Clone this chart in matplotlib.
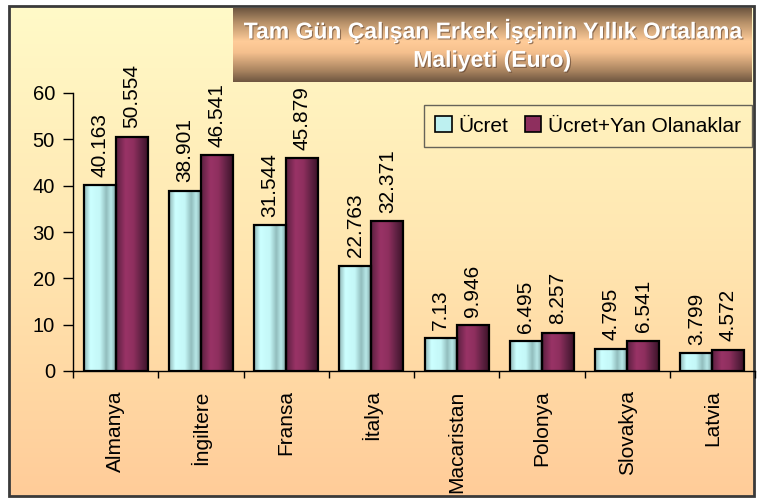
import numpy as np
import matplotlib
matplotlib.use("Agg")
import matplotlib.pyplot as plt
from matplotlib.colors import LinearSegmentedColormap
from matplotlib.patches import Rectangle, Patch
import matplotlib.patheffects as pe

plt.rcParams['font.family'] = ['Liberation Sans', 'DejaVu Sans']

categories = ["Almanya", "İngiltere", "Fransa", "İtalya", "Macaristan", "Polonya", "Slovakya", "Latvia"]
ucret = [40.163, 38.901, 31.544, 22.763, 7.13, 6.495, 4.795, 3.799]
ucret_yan = [50.554, 46.541, 45.879, 32.371, 9.946, 8.257, 6.541, 4.572]
series_names = ["Ücret", "Ücret+Yan Olanaklar"]
yticks = [0, 10, 20, 30, 40, 50, 60]
title = "Tam Gün Çalışan Erkek İşçinin Yıllık Ortalama\nMaliyeti (Euro)"

W, H = 758, 499
fig = plt.figure(figsize=(W / 100, H / 100), dpi=100)
fig.patch.set_facecolor("white")

# background layer in pixel coordinates
bg = fig.add_axes([0, 0, 1, 1], zorder=-1)
bg.set_xlim(0, W)
bg.set_ylim(H, 0)
bg.axis("off")
bg_cmap = LinearSegmentedColormap.from_list("bg", ["#FFFAC8", "#FFE6B0", "#FFCC99"])
grad = np.linspace(0, 1, 256).reshape(-1, 1)
bg.imshow(grad, cmap=bg_cmap, extent=[9, 754, 496, 6], aspect="auto", interpolation="bilinear")
bg.add_patch(Rectangle((9, 6), 745, 490, fill=False, edgecolor="#3A3A3A", linewidth=2))

# title box
t_cmap = LinearSegmentedColormap.from_list(
    "tt", [(0, "#6E5640"), (0.2, "#B8926A"), (0.45, "#FFCC99"), (0.6, "#F5C08E"), (0.85, "#A8835F"), (1, "#6E5640")])
bg.imshow(grad, cmap=t_cmap, extent=[233, 752, 82, 8], aspect="auto", interpolation="bilinear")
bg.text(492, 45, title, ha="center", va="center", color="white", fontsize=16.5, fontweight="bold",
        linespacing=1.3,
        path_effects=[pe.withSimplePatchShadow(offset=(0.8, -0.8), shadow_rgbFace="#5A4030", alpha=0.6)])
bg.set_xlim(0, W)
bg.set_ylim(H, 0)

# main axes
ax = fig.add_axes([73 / W, 1 - 371 / H, (755 - 73) / W, (371 - 93) / H])
ax.patch.set_alpha(0)
x = np.arange(len(categories))
bw = 0.375

cyan_cmap = LinearSegmentedColormap.from_list(
    "cy", [(0, "#8FB5B5"), (0.2, "#CCFFFF"), (0.5, "#C4F7F7"), (0.7, "#92BDBD"), (0.85, "#B8E8E8"), (1, "#7FA3A3")])
mar_cmap = LinearSegmentedColormap.from_list(
    "mr", [(0, "#5A1F3F"), (0.3, "#993366"), (0.55, "#8E2F5E"), (0.8, "#5E2142"), (1, "#3E1229")])
hgrad = np.linspace(0, 1, 256).reshape(1, -1)

def draw(vals, offset, cmap):
    bars = ax.bar(x + offset, vals, bw, facecolor="none", edgecolor="black", linewidth=1.6, zorder=3)
    for b in bars:
        im = ax.imshow(hgrad, cmap=cmap, aspect="auto", interpolation="bilinear",
                       extent=[b.get_x(), b.get_x() + b.get_width(), 0, b.get_height()], zorder=2)
        im.set_clip_path(b)
    return bars

b1 = draw(ucret, -bw / 2, cyan_cmap)
b2 = draw(ucret_yan, bw / 2, mar_cmap)

for bars, vals in ((b1, ucret), (b2, ucret_yan)):
    for b, v in zip(bars, vals):
        ax.annotate(f"{v:g}", (b.get_x() + b.get_width() / 2, v), xytext=(0, 6), textcoords="offset points",
                    rotation=90, ha="center", va="bottom", fontsize=15, zorder=4)

ax.set_xlim(-0.5, len(categories) - 0.5)
ax.set_ylim(0, 60)
ax.set_yticks(yticks)
ax.set_yticklabels([str(t) for t in yticks], fontsize=14.5)
ax.tick_params(axis="y", direction="out", length=7, width=1, pad=6, colors="black")
ax.set_xticks(x)
ax.set_xticklabels(categories, rotation=90, fontsize=15, va="top", ha="center")
ax.tick_params(axis="x", which="major", length=0, pad=14)
ax.set_xticks(np.arange(len(categories) + 1) - 0.5, minor=True)
ax.tick_params(axis="x", which="minor", direction="out", length=5, width=1)
for s in ("top", "right"):
    ax.spines[s].set_visible(False)
ax.spines["left"].set_linewidth(1)
ax.spines["bottom"].set_linewidth(1)

handles = [Patch(facecolor="#BDF0F0", edgecolor="black", linewidth=1.2),
           Patch(facecolor="#8E2F5E", edgecolor="black", linewidth=1.2)]
leg = fig.legend(handles, series_names, loc="upper right", bbox_to_anchor=(752 / W, 1 - 105 / H),
                 ncol=2, fontsize=15, frameon=True, fancybox=False, handlelength=0.8, handleheight=0.8,
                 handletextpad=0.3, columnspacing=0.8, borderpad=0.55, borderaxespad=0)
leg.get_frame().set_facecolor("none")
leg.get_frame().set_edgecolor("#404040")
leg.get_frame().set_linewidth(1)

fig.savefig("out.png", dpi=100)
